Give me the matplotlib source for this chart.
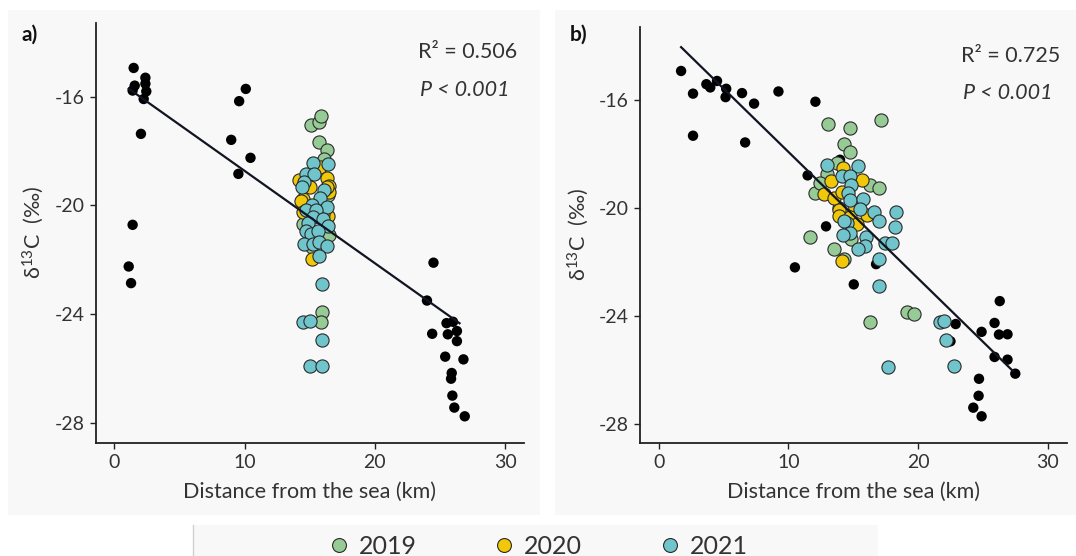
import matplotlib
matplotlib.use("Agg")
import matplotlib.pyplot as plt
from matplotlib.patches import Rectangle
from matplotlib.lines import Line2D
import numpy as np

# ---------------- data ----------------
# Panel a
a_black_x = [1.48, 2.38, 1.56, 1.40, 2.38, 2.45, 2.25, 2.04, 1.40, 1.10, 1.28,
             10.09, 9.58, 8.97, 10.45, 9.52,
             24.5, 24.0, 25.5, 26.0, 26.3, 24.4, 25.6, 26.3, 25.4, 26.8, 25.9, 25.85, 25.95, 26.1, 26.9]
a_black_y = [-14.95, -15.31, -15.60, -15.78, -15.53, -15.81, -16.09, -17.37, -20.71, -22.24, -22.85,
             -15.72, -16.17, -17.59, -18.25, -18.84,
             -22.10, -23.49, -24.32, -24.27, -24.61, -24.71, -24.73, -24.98, -25.55, -25.65, -26.15, -26.36, -26.98, -27.42, -27.74]

a_2019_x = [15.07, 15.73, 15.89, 15.73, 16.30, 16.10, 14.46, 16.50, 15.15, 15.91, 15.84, 14.80, 16.40]
a_2019_y = [-17.06, -16.94, -16.73, -17.68, -17.98, -18.30, -20.67, -21.10, -21.53, -23.92, -24.28, -19.20, -19.60]

a_2020_x = [15.79, 16.35, 16.50, 15.02, 16.50, 14.46, 16.37, 15.14, 14.20, 14.35, 16.30, 16.00, 14.48]
a_2020_y = [-18.59, -18.98, -19.27, -19.33, -19.51, -19.75, -20.40, -21.96, -19.08, -19.82, -19.33, -20.30, -20.25]

a_2021_x = [15.27, 16.42, 14.71, 15.35, 14.56, 14.38, 16.10, 15.79, 15.20, 16.30, 14.71, 15.48, 15.27,
            16.04, 14.84, 16.42, 14.71, 15.07, 15.66, 14.56, 15.27, 15.73, 16.30, 15.73, 15.91, 14.46,
            15.02, 15.91, 15.02, 15.91]
a_2021_y = [-18.45, -18.47, -18.84, -18.84, -19.14, -19.33, -19.43, -19.72, -20.00, -20.06, -20.18, -20.18, -20.43,
            -20.49, -20.65, -20.77, -20.92, -21.04, -20.92, -21.41, -21.41, -21.35, -21.47, -21.87, -22.90, -24.26,
            -24.25, -24.93, -25.91, -25.88]

a_fit = (-15.34, -0.339)   # intercept, slope
a_fit_range = [1.1, 26.5]
a_r2 = "0.506"

# Panel b
b_black_x = [1.72, 2.64, 3.67, 3.97, 4.49, 5.20, 5.15, 6.42, 7.35, 9.23, 12.08, 2.64, 6.66, 13.98, 11.48,
             12.90, 10.50, 16.76, 15.04, 22.90, 22.50, 24.90, 26.30, 25.90, 26.24, 26.90, 25.90, 26.90,
             27.50, 24.70, 24.67, 24.26, 24.90]
b_black_y = [-14.93, -15.77, -15.42, -15.54, -15.30, -15.59, -15.90, -15.75, -16.14, -15.69, -16.07, -17.33, -17.58,
             -18.22, -18.80, -20.69, -22.21, -22.09, -22.84, -24.31, -24.95, -24.60, -23.46, -24.27, -24.70,
             -24.69, -25.53, -25.63, -26.15, -26.34, -26.97, -27.41, -27.73]

b_2019_x = [13.02, 14.77, 17.14, 14.31, 14.77, 13.74, 12.97, 12.07, 12.40, 16.26, 16.96, 13.87, 11.68,
            13.53, 14.83, 14.30, 16.32, 19.16, 19.72]
b_2019_y = [-16.90, -17.05, -16.74, -17.64, -17.95, -18.35, -18.74, -19.46, -19.09, -19.15, -19.27, -20.00, -21.09,
            -21.53, -21.16, -21.90, -24.25, -23.87, -23.93]

b_2020_x = [14.20, 13.30, 15.68, 12.76, 13.48, 14.13, 13.87, 15.03, 16.06, 13.87, 14.77, 14.13, 15.30]
b_2020_y = [-18.53, -19.00, -18.96, -19.48, -19.64, -19.43, -20.07, -19.89, -20.26, -20.32, -20.35, -21.99, -20.60]

b_2021_x = [12.97, 15.34, 14.13, 14.72, 14.83, 14.57, 14.77, 15.75, 15.55, 16.57, 16.96, 18.33, 14.52, 18.25,
            14.31, 14.77, 14.21, 15.99, 15.88, 15.34, 17.48, 18.00, 16.96, 16.96, 21.68, 22.00, 22.12, 22.80, 17.66]
b_2021_y = [-18.41, -18.47, -18.81, -18.84, -19.15, -19.46, -19.70, -19.68, -20.05, -20.17, -20.50, -20.17, -20.57,
            -20.72, -20.50, -20.94, -21.00, -21.09, -21.43, -21.53, -21.31, -21.31, -21.90, -22.89, -24.23,
            -24.21, -24.91, -25.85, -25.90]

b_fit = (-13.24, -0.469)
b_fit_range = [1.72, 27.3]
b_r2 = "0.725"

years = ["2019", "2020", "2021"]
year_colors = ["#96cb96", "#f0c808", "#70c5cc"]
x_ticks = [0, 10, 20, 30]
y_ticks = [-16, -20, -24, -28]

# ---------------- style ----------------
FONT = ["Lato", "DejaVu Sans"]
plt.rcParams["font.family"] = FONT
plt.rcParams["mathtext.fontset"] = "custom"
plt.rcParams["mathtext.rm"] = "Lato"
plt.rcParams["mathtext.it"] = "Lato:italic"
TXT = "#333333"
PANEL_BG = "#f8f8f8"

fig = plt.figure(figsize=(10.76, 5.56), dpi=100)
fig.patch.set_facecolor("white")

W, H = 1076.0, 556.0
# panel backgrounds
fig.patches.append(Rectangle((8 / W, 1 - 515 / H), (540 - 8) / W, (515 - 10) / H,
                             transform=fig.transFigure, facecolor=PANEL_BG, edgecolor="none", zorder=-10))
fig.patches.append(Rectangle((555 / W, 1 - 515 / H), (1076 - 555) / W, (515 - 10) / H,
                             transform=fig.transFigure, facecolor=PANEL_BG, edgecolor="none", zorder=-10))
# legend box
fig.patches.append(Rectangle((193 / W, 0), (878 - 193) / W, (556 - 525) / H,
                             transform=fig.transFigure, facecolor=PANEL_BG, edgecolor="none", zorder=-10))
fig.lines.append(Line2D([193 / W, 193 / W], [0, (556 - 525) / H], transform=fig.transFigure,
                        color="#d0d0d0", lw=1, zorder=-9))

ax_a = fig.add_axes([95.5 / W, 1 - 443 / H, (524 - 95.5) / W, (443 - 23) / H])
ax_b = fig.add_axes([640 / W, 1 - 443 / H, (1066.5 - 640) / W, (443 - 27) / H])
ax_a.set_zorder(2)
ax_b.set_zorder(2)


def draw(ax, bx, by, cols, fit, fit_range, r2):
    ax.set_facecolor(PANEL_BG)
    ax.scatter(bx, by, s=56, color="black", edgecolors="none", zorder=2)
    for (xs, ys), c in zip(cols, year_colors):
        ax.scatter(xs, ys, s=90, color=c, edgecolors="#2a2a2a", linewidths=0.8, zorder=3)
    fx = np.array(fit_range)
    ax.plot(fx, fit[0] + fit[1] * fx, color="#111522", lw=1.6, zorder=4)
    ax.set_xlim(-1.45, 31.45)
    ax.set_ylim(-28.72, -13.3)
    ax.set_xticks(x_ticks)
    ax.set_yticks(y_ticks)
    ax.set_yticklabels([str(t) for t in y_ticks])
    for s in ["top", "right"]:
        ax.spines[s].set_visible(False)
    for s in ["left", "bottom"]:
        ax.spines[s].set_color("#222222")
        ax.spines[s].set_linewidth(1.3)
    ax.tick_params(axis="both", colors="#222222", length=4, width=1.0, labelsize=14,
                   labelcolor=TXT, pad=4)
    ax.set_xlabel("Distance from the sea (km)", fontsize=15.5, color=TXT, labelpad=8)
    ax.set_ylabel(r"δ$^{13}$C  (‰)", fontsize=15.5, color=TXT, labelpad=6)
    ax.text(0.985, 0.955, f"R² = {r2}", transform=ax.transAxes, ha="right", va="top",
            fontsize=15.5, color=TXT)
    ax.text(0.757, 0.865, "P < 0.001", transform=ax.transAxes, ha="left", va="top",
            fontsize=15.5, color=TXT, style="italic")


draw(ax_a, a_black_x, a_black_y,
     [(a_2019_x, a_2019_y), (a_2020_x, a_2020_y), (a_2021_x, a_2021_y)],
     a_fit, a_fit_range, a_r2)
draw(ax_b, b_black_x, b_black_y,
     [(b_2019_x, b_2019_y), (b_2020_x, b_2020_y), (b_2021_x, b_2021_y)],
     b_fit, b_fit_range, b_r2)

fig.text(22 / W, 1 - 35 / H, "a)", fontsize=15, fontweight="bold", color="#111111", va="center")
fig.text(570 / W, 1 - 35 / H, "b)", fontsize=15, fontweight="bold", color="#111111", va="center")

handles = [Line2D([], [], marker="o", linestyle="none", markersize=10, markerfacecolor=c,
                  markeredgecolor="#2a2a2a", markeredgewidth=0.8) for c in year_colors]
fig.legend(handles, years, loc="center", bbox_to_anchor=(537 / W, 1 - 546 / H), ncol=3,
           frameon=False, fontsize=18, handletextpad=0.3, columnspacing=3.0,
           handlelength=1.0, labelcolor=TXT)

fig.savefig("out.png", dpi=100, facecolor="white")
